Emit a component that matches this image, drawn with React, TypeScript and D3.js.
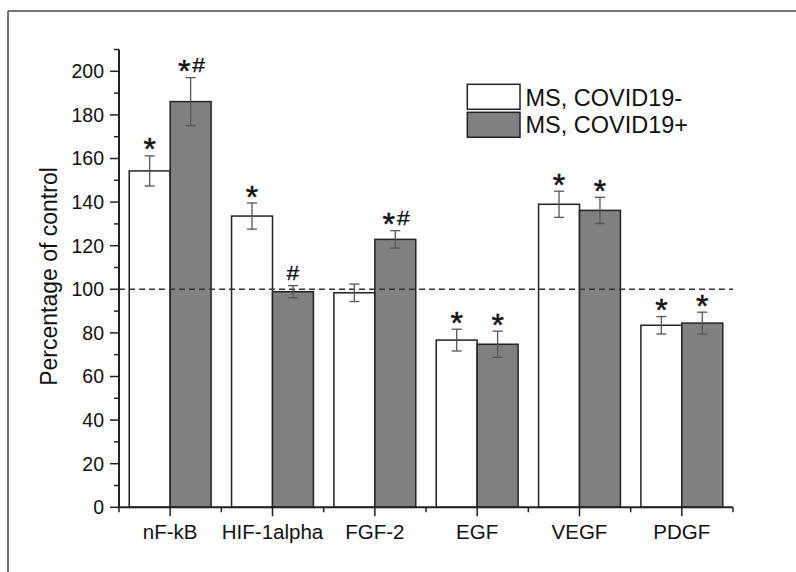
import React from "react";
import * as d3 from "d3";

const categories = ["nF-kB", "HIF-1alpha", "FGF-2", "EGF", "VEGF", "PDGF"];
const seriesNames = ["MS, COVID19-", "MS, COVID19+"];
const negValues = [154.3, 133.6, 98.4, 76.7, 139.0, 83.5];
const negErrors = [6.9, 6.0, 4.0, 5.0, 6.0, 4.0];
const posValues = [186.1, 98.9, 122.9, 74.8, 136.2, 84.5];
const posErrors = [11.0, 2.8, 4.0, 6.0, 6.0, 5.0];
const negMarks = ["*", "*", "", "*", "*", "*"];
const posMarks = ["*#", "#", "*#", "*", "*", "*"];
const yMajorTicks = [0, 20, 40, 60, 80, 100, 120, 140, 160, 180, 200];
const yMinorTicks = [10, 30, 50, 70, 90, 110, 130, 150, 170, 190, 210];
const referenceLevel = 100;

const W = 796;
const H = 572;
const FONT = "'Liberation Sans', Arial, sans-serif";
const GRAY = "#808080";
const DARK = "#222";

export default function App() {
  const x = d3.scaleLinear().domain([0.5, categories.length + 0.5]).range([119, 733]);
  const y = d3.scaleLinear().domain([0, 210]).range([507.3, 49.5]);
  const step = x(2) - x(1);
  const bw = step * 0.4;

  const series = [
    { name: seriesNames[0], values: negValues, errors: negErrors, marks: negMarks, fill: "#fff", offset: -1 },
    { name: seriesNames[1], values: posValues, errors: posErrors, marks: posMarks, fill: GRAY, offset: 0 },
  ];

  const minorX = d3.range(0, categories.length + 1).map((i) => i + 0.5);

  const renderMarks = (mark: string, cx: number, top: number, key: string) => {
    const inkBottom = top - 6;
    const els: React.ReactNode[] = [];
    const hasStar = mark.includes("*");
    const hasHash = mark.includes("#");
    const both = hasStar && hasHash;
    if (hasStar) {
      els.push(
        <text key={key + "s"} x={both ? cx - 6.5 : cx} y={inkBottom + 0.33 * 32} fontSize={32} fontFamily={FONT} textAnchor="middle" fill="#111" stroke="#111" strokeWidth={0.5}>*</text>
      );
    }
    if (hasHash) {
      const hx = both ? cx + 8 : cx;
      els.push(
        <text key={key + "h"} x={0} y={0} fontSize={20} fontFamily={FONT} textAnchor="middle" fill="#111" stroke="#111" strokeWidth={0.3} transform={`translate(${hx},${inkBottom + 0.5}) scale(1.15,1)`}>#</text>
      );
    }
    return els;
  };

  return (
    <svg width={W} height={H} style={{ position: "absolute", left: 0, top: 0, background: "#fff" }}>
      <rect x={0} y={0} width={W} height={H} fill="#fff" />
      {/* frame */}
      <line x1={8} y1={11} x2={W} y2={11} stroke="#444" strokeWidth={1.5} />
      <line x1={8} y1={11} x2={8} y2={H} stroke="#444" strokeWidth={1.5} />

      {/* bars */}
      {series.map((s, si) =>
        s.values.map((v, i) => {
          const cx = x(i + 1);
          const x0 = s.offset < 0 ? cx - bw : cx;
          return (
            <rect key={`b${si}-${i}`} x={x0} y={y(v)} width={bw} height={y(0) - y(v)} fill={s.fill} stroke={DARK} strokeWidth={1.5} />
          );
        })
      )}

      {/* reference line */}
      <line x1={x(0.5)} x2={x(categories.length + 0.5)} y1={y(referenceLevel)} y2={y(referenceLevel)} stroke="#333" strokeWidth={1.5} strokeDasharray="6,4" />

      {/* error bars */}
      {series.map((s, si) =>
        s.values.map((v, i) => {
          const cx = x(i + 1) + (s.offset < 0 ? -bw / 2 : bw / 2);
          const t = y(v + s.errors[i]);
          const b = y(v - s.errors[i]);
          return (
            <g key={`e${si}-${i}`} stroke="#555" strokeWidth={1.3}>
              <line x1={cx} x2={cx} y1={t} y2={b} />
              <line x1={cx - 5} x2={cx + 5} y1={t} y2={t} />
              <line x1={cx - 5} x2={cx + 5} y1={b} y2={b} />
            </g>
          );
        })
      )}

      {/* significance marks */}
      {series.map((s, si) =>
        s.values.map((v, i) => {
          const cx = x(i + 1) + (s.offset < 0 ? -bw / 2 : bw / 2);
          return <g key={`m${si}-${i}`}>{renderMarks(s.marks[i], cx, y(v + s.errors[i]), `m${si}-${i}`)}</g>;
        })
      )}

      {/* y axis */}
      <line x1={119} x2={119} y1={y(210)} y2={y(0)} stroke={DARK} strokeWidth={2} />
      {yMajorTicks.map((t) => (
        <g key={`ym${t}`}>
          <line x1={110} x2={119} y1={y(t)} y2={y(t)} stroke={DARK} strokeWidth={1.5} />
          <text x={104} y={y(t) + 0.358 * 19.5} fontSize={19.5} fontFamily={FONT} textAnchor="end" fill="#111">{t}</text>
        </g>
      ))}
      {yMinorTicks.map((t) => (
        <line key={`yn${t}`} x1={114} x2={119} y1={y(t)} y2={y(t)} stroke={DARK} strokeWidth={1.5} />
      ))}

      {/* x axis */}
      <line x1={x(0.5)} x2={x(categories.length + 0.5)} y1={y(0)} y2={y(0)} stroke={DARK} strokeWidth={2} />
      {categories.map((c, i) => (
        <g key={`xc${c}`}>
          <line x1={x(i + 1)} x2={x(i + 1)} y1={y(0)} y2={y(0) + 9} stroke={DARK} strokeWidth={1.5} />
          <text x={x(i + 1)} y={539} fontSize={20.5} fontFamily={FONT} textAnchor="middle" fill="#111">{c}</text>
        </g>
      ))}
      {minorX.map((m) => (
        <line key={`xn${m}`} x1={x(m)} x2={x(m)} y1={y(0)} y2={y(0) + 5} stroke={DARK} strokeWidth={1.5} />
      ))}

      {/* y title */}
      <text transform={`translate(57.3,276.5) rotate(-90)`} fontSize={23} fontFamily={FONT} textAnchor="middle" fill="#111">Percentage of control</text>

      {/* legend */}
      {series.map((s, si) => (
        <g key={`l${si}`}>
          <rect x={467.3} y={84.3 + si * 28} width={52.7} height={25} fill={s.fill} stroke={DARK} strokeWidth={1.5} />
          <text x={525.5} y={106 + si * 26.7} fontSize={23.5} fontFamily={FONT} fill="#111">{s.name}</text>
        </g>
      ))}
    </svg>
  );
}
